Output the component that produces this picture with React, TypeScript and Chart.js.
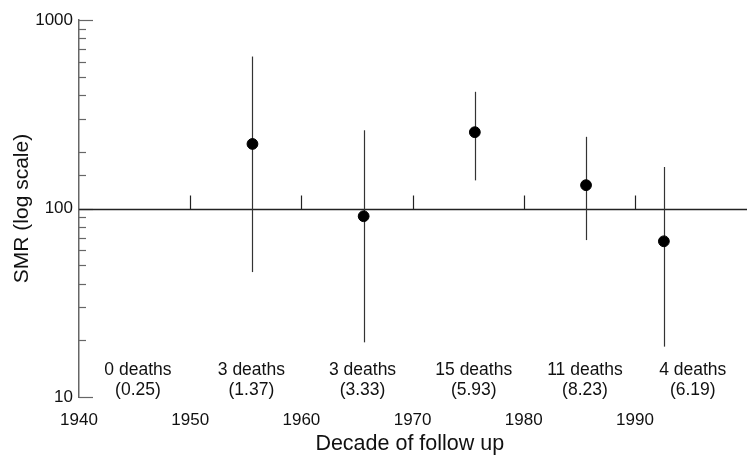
import React, { useEffect, useRef } from "react";
import { Chart, registerables } from "chart.js";

Chart.register(...registerables);

// ---- data ----
const decadeMid = [1955.6, 1965.6, 1975.6, 1985.6, 1992.6];
const smr = [220, 91, 254, 133, 67];
const ciLow = [46, 19.5, 141, 68, 18.5];
const ciHigh = [640, 260, 416, 240, 166];

const labelX = [1945.3, 1955.5, 1965.5, 1975.5, 1985.5, 1995.2];
const deathLabels = ["0 deaths", "3 deaths", "3 deaths", "15 deaths", "11 deaths", "4 deaths"];
const expectedLabels = ["(0.25)", "(1.37)", "(3.33)", "(5.93)", "(8.23)", "(6.19)"];

const xTicks = [1940, 1950, 1960, 1970, 1980, 1990];
const refTicks = [1950, 1960, 1970, 1980, 1990];
const yLabelTicks = [10, 100, 1000];
const refValue = 100;

const FONT = "'Liberation Sans', Arial, Helvetica, sans-serif";

const customPlugin = {
  id: "custom",
  beforeDatasetsDraw(chart: any) {
    const ctx = chart.ctx;
    const xs = chart.scales.x;
    const ys = chart.scales.y;
    const area = chart.chartArea;
    ctx.save();
    // y axis inner ticks
    ctx.strokeStyle = "#666";
    ctx.lineWidth = 1.2;
    ys.ticks.forEach((t: any) => {
      const v = t.value;
      const y = Math.round(ys.getPixelForValue(v)) + 0.5;
      const major = yLabelTicks.includes(v);
      const len = major ? 14 : 7;
      ctx.beginPath();
      ctx.moveTo(area.left, y);
      ctx.lineTo(area.left + len, y);
      ctx.stroke();
    });
    // reference line
    const yr = Math.round(ys.getPixelForValue(refValue)) + 0.5;
    ctx.strokeStyle = "#222";
    ctx.lineWidth = 1.5;
    ctx.beginPath();
    ctx.moveTo(area.left, yr);
    ctx.lineTo(chart.width, yr);
    ctx.stroke();
    ctx.lineWidth = 1.2;
    refTicks.forEach((v) => {
      const x = Math.round(xs.getPixelForValue(v)) + 0.5;
      ctx.beginPath();
      ctx.moveTo(x, yr);
      ctx.lineTo(x, yr - 14);
      ctx.stroke();
    });
    // error bars
    ctx.strokeStyle = "#333";
    ctx.lineWidth = 1.2;
    decadeMid.forEach((xv, i) => {
      const x = Math.round(xs.getPixelForValue(xv)) + 0.5;
      ctx.beginPath();
      ctx.moveTo(x, ys.getPixelForValue(ciLow[i]));
      ctx.lineTo(x, ys.getPixelForValue(ciHigh[i]));
      ctx.stroke();
    });
    // annotations
    ctx.fillStyle = "#111";
    ctx.font = `17.5px ${FONT}`;
    ctx.textAlign = "center";
    ctx.textBaseline = "middle";
    labelX.forEach((xv, i) => {
      const x = xs.getPixelForValue(xv);
      ctx.fillText(deathLabels[i], x, area.bottom - 27);
      ctx.fillText(expectedLabels[i], x, area.bottom - 7);
    });
    ctx.restore();
  },
};

export default function App() {
  const ref = useRef<HTMLCanvasElement | null>(null);
  useEffect(() => {
    if (!ref.current) return;
    const chart = new Chart(ref.current, {
      type: "scatter",
      data: {
        datasets: [
          {
            data: decadeMid.map((x, i) => ({ x, y: smr[i] })),
            backgroundColor: "#000",
            borderColor: "#000",
            pointRadius: 5.4,
            pointHoverRadius: 5.4,
          },
        ],
      },
      options: {
        animation: false,
        responsive: true,
        maintainAspectRatio: false,
        layout: { padding: { top: 20, right: 0, left: 0, bottom: 0 } },
        plugins: {
          legend: { display: false },
          tooltip: { enabled: false },
        },
        scales: {
          x: {
            type: "linear",
            min: 1940,
            max: 1999.5,
            grid: { display: false, drawTicks: false },
            border: { display: false },
            afterBuildTicks: (scale: any) => {
              scale.ticks = xTicks.map((v) => ({ value: v }));
            },
            afterFit: (scale: any) => {
              scale.height = 60;
            },
            ticks: {
              color: "#111",
              font: { family: FONT, size: 17 },
              padding: 13,
              maxRotation: 0,
              autoSkip: false,
              callback: (v: any) => String(v),
            },
            title: {
              display: true,
              text: "Decade of follow up",
              color: "#111",
              font: { family: FONT, size: 21.5 },
              padding: { top: 0, bottom: 0 },
            },
          },
          y: {
            type: "logarithmic",
            min: 10,
            max: 1000,
            grid: { display: false, drawTicks: false },
            border: { display: true, color: "#666", width: 1.5 },
            afterFit: (scale: any) => {
              scale.width = 79;
            },
            ticks: {
              color: "#111",
              font: { family: FONT, size: 17 },
              padding: 6,
              autoSkip: false,
              callback: (v: any) => (yLabelTicks.includes(Number(v)) ? String(v) : ""),
            },
            title: {
              display: true,
              text: "SMR (log scale)",
              color: "#111",
              font: { family: FONT, size: 21 },
              padding: { top: 10, bottom: 0 },
            },
          },
        },
      },
      plugins: [customPlugin],
    });
    return () => chart.destroy();
  }, []);
  return (
    <div style={{ position: "fixed", left: 0, top: 0, width: 747, height: 457, background: "#fff" }}>
      <canvas ref={ref} />
    </div>
  );
}
